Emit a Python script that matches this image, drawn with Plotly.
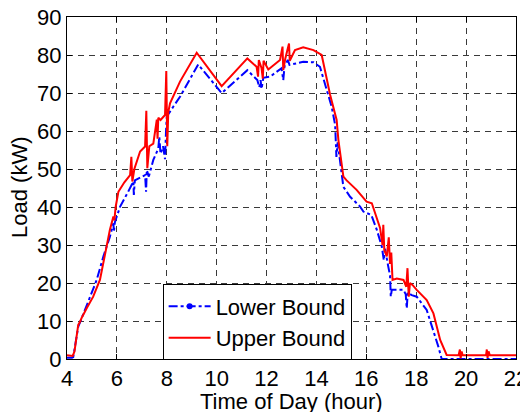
import plotly.graph_objects as go

# Upper bound (red)
upper_x = [4.0, 4.23, 4.3, 4.45, 4.5, 4.6, 4.8, 5.05, 5.32, 5.52, 5.72, 5.86, 5.9, 5.95, 6.06,
           6.3, 6.53, 6.58, 6.62, 6.7, 6.93, 7.13, 7.18, 7.22, 7.3, 7.46, 7.6, 7.63, 7.66, 7.75,
           7.93, 7.98, 8.02, 8.06, 8.13, 8.53, 9.2, 10.2, 11.23, 11.6, 11.66, 11.69, 11.8, 11.85,
           11.88, 12.07, 12.54, 12.64, 12.67, 12.75, 12.9, 12.93, 13.14, 13.47, 13.88, 14.21,
           14.55, 14.81, 14.88, 15.08, 15.21, 15.61, 16.01, 16.22, 16.55, 16.65, 16.68, 16.72,
           16.82, 16.9, 16.95, 17.0, 17.05, 17.22, 17.49, 17.6, 17.65, 17.7, 17.75, 17.85, 18.02,
           18.42, 18.69, 18.96, 19.22, 19.7, 19.75, 19.78, 19.82, 19.86, 20.8, 20.83, 20.86,
           20.9, 20.95, 22.0]
upper_y = [1.0, 0.8, 2.0, 9.0, 9.5, 11.0, 13.5, 16.4, 20.8, 27.9, 34.0, 37.5, 36.5, 40.0, 44.0,
           46.5, 48.4, 53.2, 46.7, 50.0, 54.6, 55.9, 65.3, 50.2, 56.0, 56.7, 63.0, 58.0, 63.5, 62.9,
           64.2, 75.8, 56.0, 65.0, 67.3, 73.0, 80.6, 71.8, 79.1, 76.9, 74.3, 78.7, 76.5, 73.8,
           78.5, 76.2, 78.7, 82.2, 76.0, 79.0, 83.0, 78.5, 81.3, 82.0, 81.3, 80.0,
           69.5, 62.9, 57.6, 48.0, 47.0, 44.5, 41.4, 41.0, 34.5, 30.0, 35.3, 28.7,
           27.0, 32.0, 25.0, 28.0, 20.8, 21.2, 20.8, 19.0, 23.9, 16.4, 20.0, 19.5, 18.2,
           15.5, 12.0, 5.0, 1.05, 1.0, 2.5, 0.2, 2.0, 1.0, 1.0, 2.5, 0.3,
           2.0, 1.0, 1.0]

# Lower bound (blue)
lower_x = [4.0, 4.2, 4.25, 4.45, 4.72, 5.19, 5.46, 5.72, 5.86, 5.88, 5.92, 6.13, 6.45, 6.66,
           6.68, 6.72, 7.13, 7.17, 7.2, 7.28, 7.46, 7.66, 7.7, 7.75, 7.85, 7.93, 7.97, 8.0, 8.26,
           8.53, 9.26, 10.2, 11.23, 11.63, 11.71, 11.76, 11.8, 11.87, 12.14, 12.6, 12.67, 12.72,
           12.85, 12.92, 13.47, 13.88, 14.14, 14.41, 14.61, 14.75, 14.8, 14.85, 14.95, 15.08,
           15.35, 15.75, 15.88, 16.2, 16.42, 16.62, 16.7, 16.75, 16.88, 16.95, 16.98, 17.02,
           17.49, 17.58, 17.62, 17.66, 17.82, 18.02, 18.42, 18.69, 18.89, 19.02, 22.0]
lower_y = [0.3, 0.3, 0.5, 8.5, 12.9, 20.8, 27.0, 32.2, 35.7, 33.5, 36.0, 40.1, 44.0, 46.7,
           43.2, 47.0, 48.4, 44.0, 49.7, 48.0, 52.4, 55.4, 58.5, 54.0, 56.0, 52.6, 60.0, 63.8, 66.4,
           69.0, 77.5, 70.0, 76.0, 73.4, 71.5, 73.4, 71.1, 74.0, 74.3, 76.5, 73.4, 77.0,
           78.7, 77.4, 78.2, 78.1, 76.9, 70.8, 66.4, 61.6, 53.2, 57.0, 51.5, 45.3,
           42.7, 40.1, 38.8, 37.9, 34.0, 29.6, 26.0, 29.0, 24.3, 22.0, 16.4, 18.2,
           18.2, 17.0, 13.3, 17.5, 16.8, 16.4, 12.9, 7.6, 3.2, 0.0, 0.0]

x_ticks = [4, 6, 8, 10, 12, 14, 16, 18, 20, 22]
y_ticks = [0, 10, 20, 30, 40, 50, 60, 70, 80, 90]

FONT = "Arial, Liberation Sans, sans-serif"
FS = 22

fig = go.Figure()
fig.add_trace(go.Scatter(x=lower_x, y=lower_y, mode="lines", showlegend=False,
                         line=dict(color="#0000FF", width=2, dash="dashdot")))
fig.add_trace(go.Scatter(x=upper_x, y=upper_y, mode="lines", showlegend=False,
                         line=dict(color="#FF0000", width=2)))
# legend entries
fig.add_trace(go.Scatter(x=[None], y=[None], mode="lines+markers", name="Lower Bound",
                         line=dict(color="#0000FF", width=2, dash="dashdot"),
                         marker=dict(color="#0000FF", size=6)))
fig.add_trace(go.Scatter(x=[None], y=[None], mode="lines", name="Upper Bound",
                         line=dict(color="#FF0000", width=2)))

axis_common = dict(showline=True, linecolor="black", linewidth=1, mirror="allticks",
                   ticks="inside", ticklen=5, tickcolor="black", showgrid=True,
                   gridcolor="#3a3a3a", griddash="6px,5px", gridwidth=1, zeroline=False,
                   automargin=False, ticklabeloverflow="allow",
                   tickfont=dict(family=FONT, size=FS, color="black"))

fig.update_xaxes(range=[4, 22], tickvals=x_ticks, **axis_common)
fig.update_yaxes(range=[0, 90], tickvals=y_ticks, **axis_common)

fig.add_annotation(text="Time of Day (hour)", xref="paper", yref="paper", x=0.5, y=0,
                   xanchor="center", yanchor="middle", yshift=-42, showarrow=False,
                   font=dict(family=FONT, size=FS, color="black"))
fig.add_annotation(text="Load (kW)", xref="paper", yref="paper", x=0, y=0.5,
                   xanchor="center", yanchor="middle", xshift=-48, textangle=-90,
                   showarrow=False, font=dict(family=FONT, size=FS, color="black"))

# the page body has an 8px default margin, so the figure is 8px smaller
fig.update_layout(
    width=520, height=404,
    margin=dict(l=59, r=12, t=9, b=53),
    plot_bgcolor="white", paper_bgcolor="white",
    font=dict(family=FONT, size=FS, color="black"),
    legend=dict(x=0.213, y=0.218, xanchor="left", yanchor="top",
                bgcolor="white", bordercolor="black", borderwidth=1,
                font=dict(family=FONT, size=FS, color="black"),
                itemwidth=42, tracegroupgap=0),
)

fig.write_html("out.html")
